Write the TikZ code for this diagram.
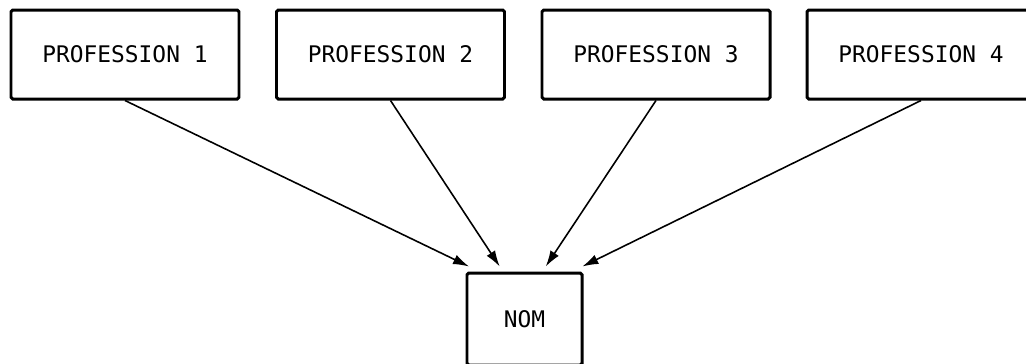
\documentclass[tikz,border=0pt]{standalone}
\usepackage{fontspec}
\setmonofont{DejaVu Sans Mono}
\usetikzlibrary{calc,arrows.meta}

\tikzset{
    profbox/.style={draw, line width=1.7pt, rounded corners=1pt, minimum width=4.56cm,
        minimum height=1.78cm, font=\ttfamily\fontsize{13}{15}\selectfont},
    link/.style={line width=0.9pt, -{Latex[length=3.2mm,width=2mm]}}
}

\begin{document}
\begin{tikzpicture}
    \useasboundingbox (0,0) rectangle (20.52,-7.26);

    % the four upper boxes
    \foreach \i/\x in {1/2.5, 2/7.81, 3/13.12, 4/18.42}
        \node[profbox] (p\i) at (\x,-1.09) {PROFESSION \i};

    \node[profbox, minimum width=2.3cm, minimum height=1.84cm] (nom) at (10.49,-6.38) {NOM};

    % arrow ends along the top of NOM
    \coordinate (e1) at ($(nom.north west)!0.03!(nom.north east)+(0,0.1)$);
    \coordinate (e2) at ($(nom.north west)!0.29!(nom.north east)+(0,0.1)$);
    \coordinate (e3) at ($(nom.north west)!0.68!(nom.north east)+(0,0.1)$);
    \coordinate (e4) at ($(nom.north west)!0.99!(nom.north east)+(0,0.1)$);

    \foreach \i in {1,...,4}
        \draw[link] (p\i.south) -- (e\i);
\end{tikzpicture}
\end{document}
